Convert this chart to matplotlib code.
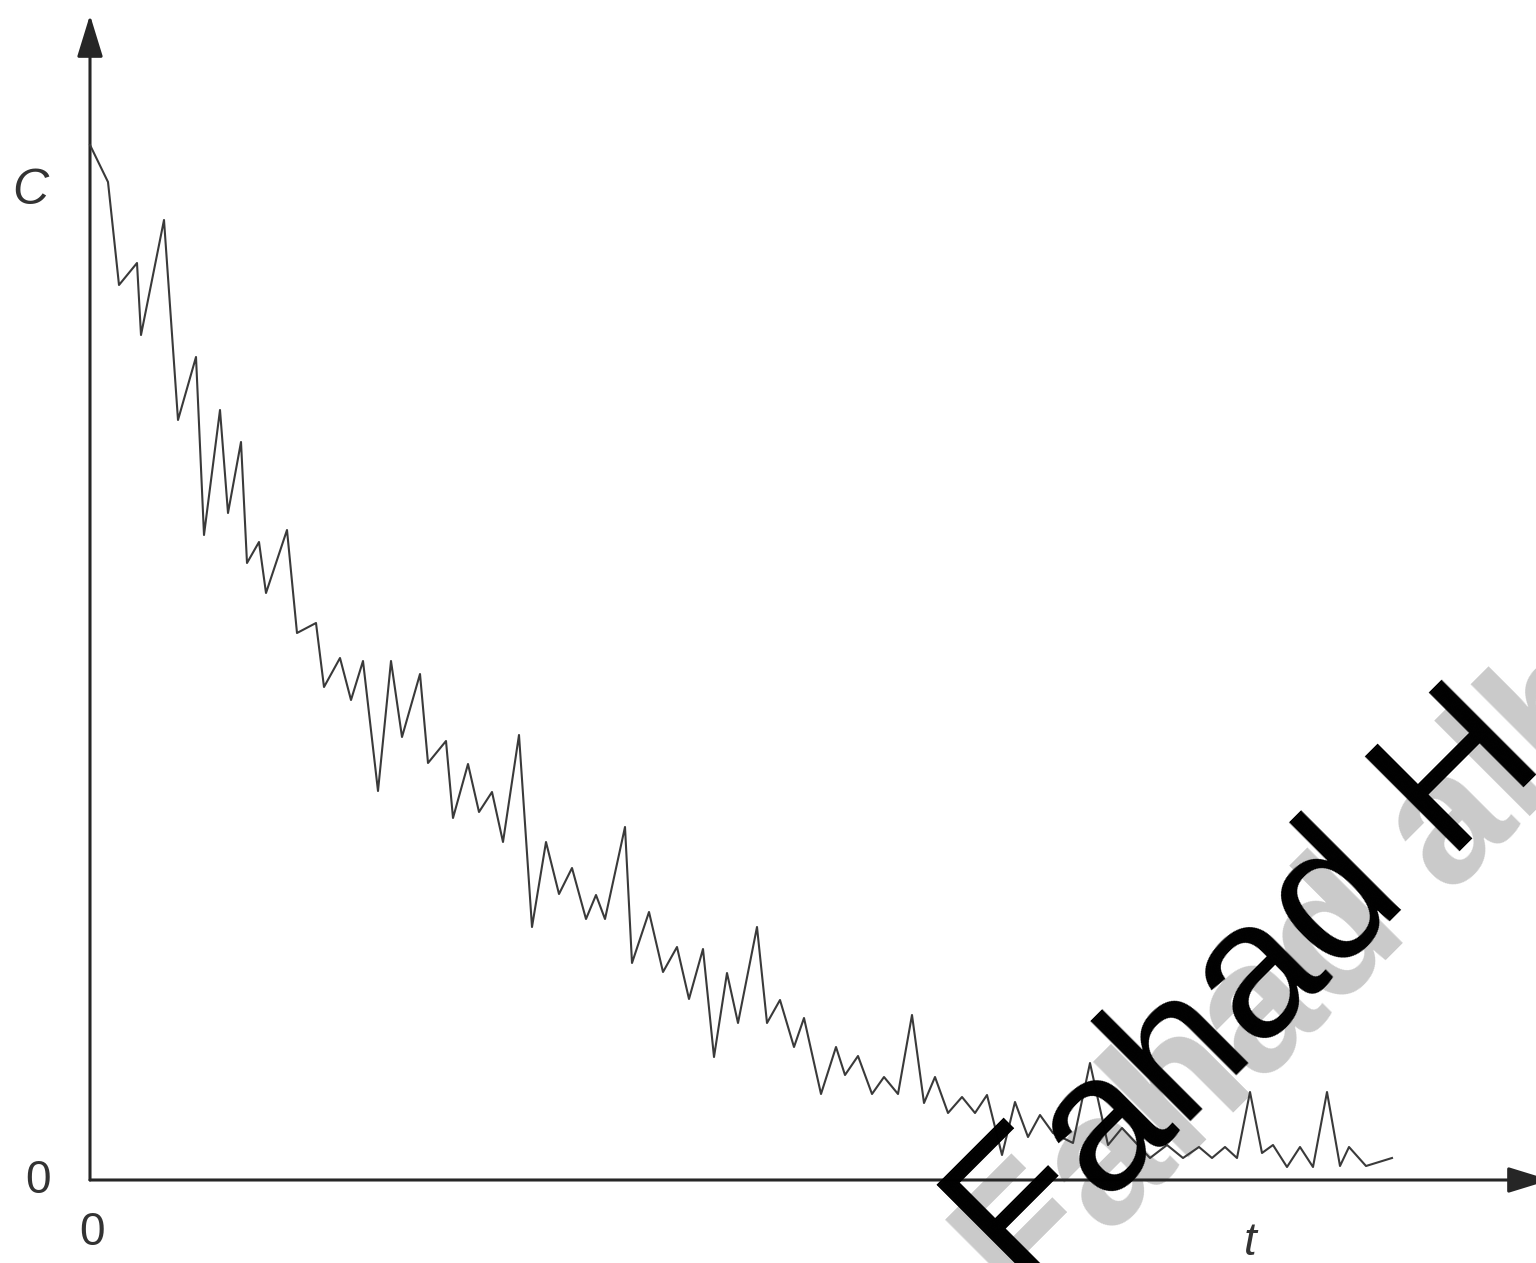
import matplotlib
matplotlib.use("Agg")
import matplotlib.pyplot as plt
from matplotlib.patches import FancyArrowPatch

# t along the horizontal axis, C up the vertical one
t = [0.00, 0.18, 0.29, 0.47, 0.51, 0.74, 0.88, 1.06, 1.14, 1.30,
     1.38, 1.51, 1.57, 1.69, 1.76, 1.97, 2.07, 2.26, 2.34, 2.50,
     2.61, 2.73, 2.88, 3.01, 3.12, 3.30, 3.38, 3.56, 3.63, 3.78,
     3.89, 4.02, 4.13, 4.29, 4.42, 4.56, 4.69, 4.82, 4.96, 5.06,
     5.15, 5.35, 5.42, 5.59, 5.73, 5.87, 5.99, 6.13, 6.24, 6.37,
     6.48, 6.67, 6.77, 6.90, 7.04, 7.14, 7.31, 7.46, 7.55, 7.68,
     7.82, 7.94, 8.08, 8.22, 8.34, 8.45, 8.58, 8.72, 8.85, 8.97,
     9.12, 9.25, 9.38, 9.50, 9.63, 9.83, 10.00, 10.18, 10.32, 10.60,
     10.77, 10.93, 11.09, 11.22, 11.35, 11.47, 11.60, 11.72, 11.83, 11.97,
     12.10, 12.23, 12.37, 12.50, 12.59, 12.76, 13.02]
c = [10.35, 9.98, 8.95, 9.17, 8.45, 9.60, 7.60, 8.23, 6.45, 7.70,
     6.67, 7.38, 6.17, 6.38, 5.87, 6.50, 5.47, 5.57, 4.93, 5.22,
     4.80, 5.19, 3.89, 5.19, 4.43, 5.06, 4.17, 4.39, 3.62, 4.16,
     3.68, 3.88, 3.38, 4.45, 2.53, 3.38, 2.86, 3.12, 2.61, 2.85,
     2.61, 3.53, 2.17, 2.68, 2.08, 2.33, 1.81, 2.31, 1.23, 2.07,
     1.57, 2.53, 1.57, 1.80, 1.33, 1.62, 0.86, 1.33, 1.05, 1.24,
     0.86, 1.03, 0.86, 1.65, 0.77, 1.03, 0.67, 0.83, 0.67, 0.85,
     0.25, 0.78, 0.43, 0.65, 0.47, 0.37, 1.17, 0.35, 0.52, 0.22,
     0.35, 0.22, 0.33, 0.22, 0.33, 0.22, 0.88, 0.27, 0.35, 0.13,
     0.33, 0.13, 0.88, 0.14, 0.33, 0.14, 0.22]

y_label = "C"
x_label = "t"
origin_label = "0"
watermark = "Fahad H"
watermark_bg = "Fahad alhu"

plt.rcParams['font.family'] = ['Liberation Sans', 'DejaVu Sans']

fig = plt.figure(figsize=(15.36, 12.63), dpi=100)
ax = fig.add_axes([0, 0, 1, 1])
ax.set_xlim(-0.90, 14.46)
ax.set_ylim(-0.83, 11.80)
ax.axis('off')

# axes with arrow heads
for end in [(14.60, 0), (0, 11.65)]:
    arr = FancyArrowPatch((0, 0), end, arrowstyle='-|>,head_length=26,head_width=8',
                          mutation_scale=1, lw=2.2, color='#262626',
                          shrinkA=0, shrinkB=0, zorder=3, clip_on=False)
    ax.add_patch(arr)

ax.plot(t, c, color='#3a3a3a', lw=1.5, zorder=4)

ax.text(-0.60, 9.89, y_label, fontsize=36, style='italic', color='#333333',
        ha='center', va='center')
ax.text(-0.52, -0.01, origin_label, fontsize=33, color='#333333', ha='center', va='center')
ax.text(0.02, -0.53, origin_label, fontsize=33, color='#333333', ha='center', va='center')
ax.text(11.60, -0.63, x_label, fontsize=33, style='italic', color='#333333',
        ha='center', va='center')

# watermark: light bold copy under the line, black one on top
ax.text(0.669, -0.044, watermark_bg, transform=fig.transFigure, fontsize=133,
        fontweight='bold', color='#cacaca', rotation=45, rotation_mode='anchor',
        ha='left', va='baseline', zorder=1, clip_on=False)
ax.text(0.6647, -0.0218, watermark, transform=fig.transFigure, fontsize=140,
        color='black', rotation=45, rotation_mode='anchor',
        ha='left', va='baseline', zorder=10, clip_on=False)

fig.savefig("out.png", dpi=100)
